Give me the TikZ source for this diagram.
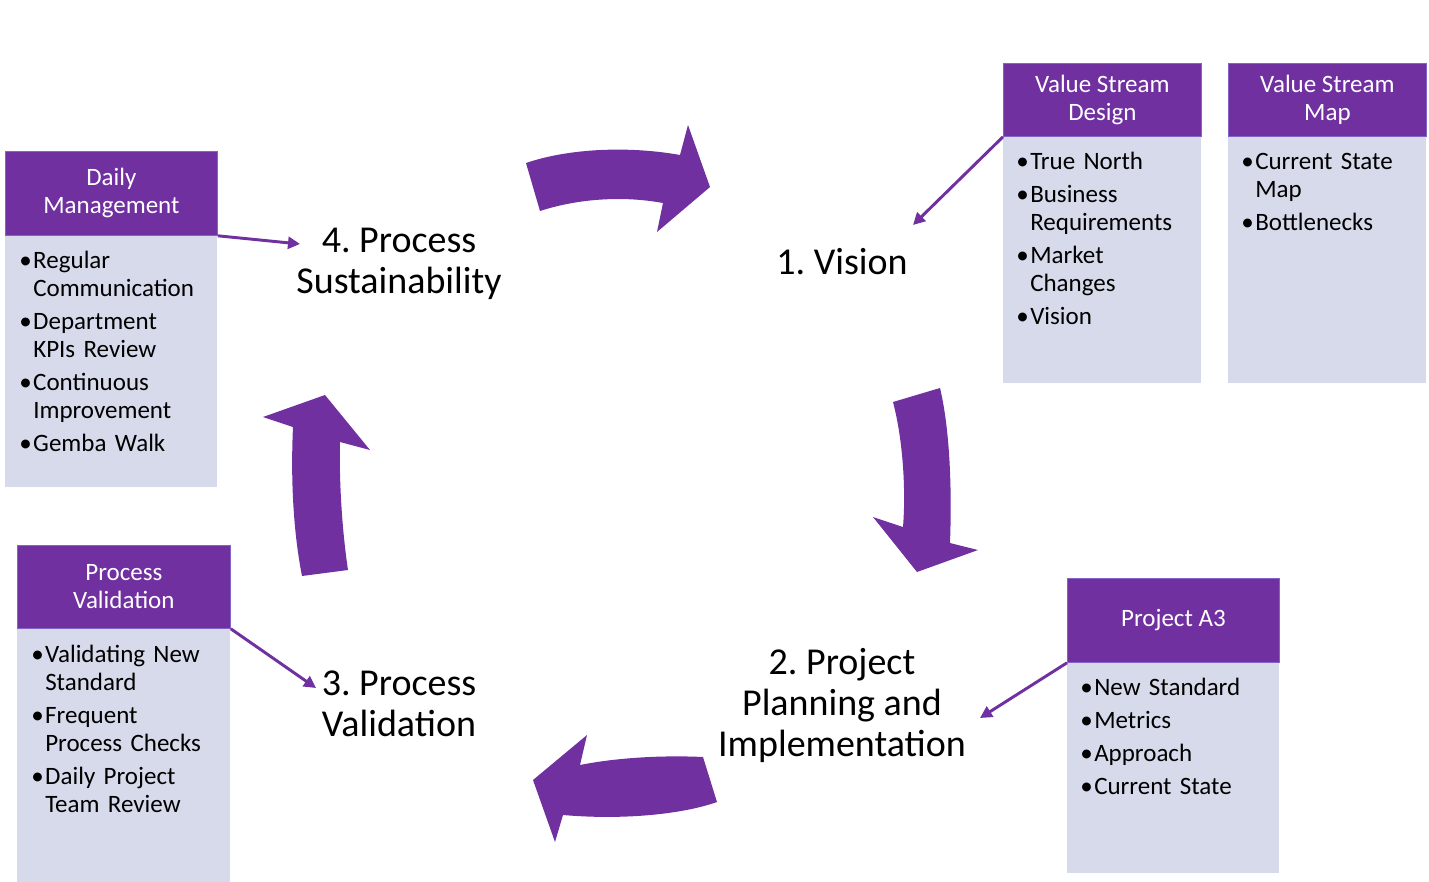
\documentclass[tikz,border=0pt]{standalone}
\usepackage{fontspec}
\setmainfont{Carlito}
\usetikzlibrary{arrows.meta}
\frenchspacing
\definecolor{vpurple}{HTML}{7030A0}
\definecolor{vbody}{RGB}{214,218,234}
\definecolor{vedge}{RGB}{130,100,200}
\newcommand{\bitem}[1]{\par\noindent\hangindent=12pt\hangafter=1\makebox[12pt][l]{\hspace{1.5pt}\textbullet}\strut#1}
\newcommand{\nl}{\hfil\break}
\tikzset{
  hdr/.style={fill=vpurple, draw=vedge, line width=0.6pt, text=white, align=center, inner sep=0pt,
    anchor=north west, font=\fontsize{18.75}{21}\selectfont\frenchspacing},
  bodybox/.style={fill=vbody, draw=none, inner sep=0pt, anchor=north west},
  items/.style={anchor=north west, inner sep=0pt,
    font=\fontsize{18.75}{21}\selectfont\setlength{\parskip}{3.75pt}\raggedright\frenchspacing},
  big/.style={align=center, inner sep=0pt, font=\fontsize{28.5}{30.75}\selectfont\frenchspacing},
  link/.style={draw=vpurple, line width=2.2pt, -{Triangle[length=9pt,width=9pt]}},
  blockarrow/.style={fill=vpurple, draw=none}
}
\begin{document}
\begin{tikzpicture}[x=0.75pt,y=-0.75pt]
\useasboundingbox (0,0) rectangle (1429,882);
\fill[white] (0,0) rectangle (1429,882);

% block arrows
\path[blockarrow] (526,163) .. controls (570,148) and (630,146) .. (680,155) -- (688,125) -- (710,187) -- (657,232) -- (663,203) .. controls (625,196) and (580,198) .. (540,211) -- cycle;
\path[blockarrow] (893,402) .. controls (903,440) and (906,490) .. (903,527) -- (873,517) -- (917,572) -- (978,550) -- (950,543) .. controls (952,490) and (950,430) .. (940,388) -- cycle;
\path[blockarrow] (703,757) .. controls (660,755) and (615,758) .. (580,765) -- (587,735) -- (533,780) -- (555,842) -- (563,815) .. controls (620,820) and (680,815) .. (717,802) -- cycle;
\path[blockarrow] (302,576) .. controls (292,525) and (291,470) .. (293,427) -- (263,417) -- (325,395) -- (370,450) -- (340,442) .. controls (339,480) and (342,530) .. (348,570) -- cycle;

% stage labels
\node[big] (s1) at (842,262) {1. Vision};
\node[big] (s4) at (399,264) {4. Process\\Sustainability};
\node[big] (s3) at (399,704) {3. Process\\Validation};
\node[big] (s2) at (842,705) {2. Project\\Planning and\\Implementation};

% Daily Management
\node[bodybox, minimum width=159pt, minimum height=189pt] (dmB) at (5,235) {};
\node[hdr, minimum width=159pt, minimum height=63pt] (dmH) at (5,151) {Daily\\Management};
\node[items, text width=145pt] (dmT) at (17,235)
  {\bitem{Regular\nl Communication}\bitem{Department\nl KPIs Review}\bitem{Continuous\nl Improvement}\bitem{Gemba Walk}\par};

% Process Validation
\node[bodybox, minimum width=159.75pt, minimum height=190.5pt] (pvB) at (17,628) {};
\node[hdr, minimum width=159.75pt, minimum height=62.25pt] (pvH) at (17,545) {Process\\Validation};
\node[items, text width=145pt] (pvT) at (29,629)
  {\bitem{Validating New\nl Standard}\bitem{Frequent\nl Process Checks}\bitem{Daily Project\nl Team Review}\par};

% Value Stream Design
\node[bodybox, minimum width=148.5pt, minimum height=185.25pt] (vsdB) at (1003,136) {};
\node[hdr, minimum width=148.5pt, minimum height=54.75pt] (vsdH) at (1003,63) {Value Stream\\Design};
\node[items, text width=135pt] (vsdT) at (1014,136)
  {\bitem{True North}\bitem{Business\nl Requirements}\bitem{Market\nl Changes}\bitem{Vision}\par};

% Value Stream Map
\node[bodybox, minimum width=148.5pt, minimum height=185.25pt] (vsmB) at (1228,136) {};
\node[hdr, minimum width=148.5pt, minimum height=54.75pt] (vsmH) at (1228,63) {Value Stream\\Map};
\node[items, text width=135pt] (vsmT) at (1239,136)
  {\bitem{Current State\nl Map}\bitem{Bottlenecks}\par};

% Project A3
\node[bodybox, minimum width=159pt, minimum height=158.25pt] (a3B) at (1067,662) {};
\node[hdr, minimum width=159pt, minimum height=63pt] (a3H) at (1067,578) {Project A3};
\node[items, text width=145pt] (a3T) at (1078,662)
  {\bitem{New Standard}\bitem{Metrics}\bitem{Approach}\bitem{Current State}\par};

% links
\coordinate (vsdTip) at (913,225);
\coordinate (dmTip) at (300,244);
\coordinate (pvTip) at (316,688);
\coordinate (a3Tip) at (980,718);
\draw[link] (vsdH.south west) -- (vsdTip);
\draw[link] (dmH.south east) -- (dmTip);
\draw[link] (pvH.south east) -- (pvTip);
\draw[link] (a3H.south west) -- (a3Tip);
\end{tikzpicture}
\end{document}
